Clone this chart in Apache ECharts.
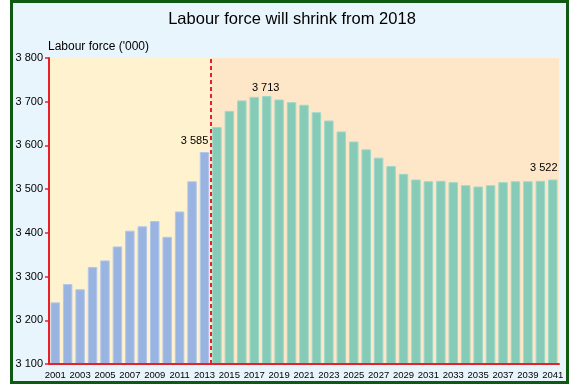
<!DOCTYPE html>
<html>
<head>
<meta charset="utf-8">
<script src="https://cdn.jsdelivr.net/npm/echarts@6/dist/echarts.min.js"></script>
<style>
html,body{margin:0;padding:0;background:#fff;}
#c{width:580px;height:384px;}
</style>
</head>
<body>
<div id="c"></div>
<script>
const years = ['2001','2002','2003','2004','2005','2006','2007','2008','2009','2010','2011','2012','2013','2014','2015','2016','2017','2018','2019','2020','2021','2022','2023','2024','2025','2026','2027','2028','2029','2030','2031','2032','2033','2034','2035','2036','2037','2038','2039','2040','2041'];
const actualValues = [3241,3283,3271,3322,3337,3369,3405,3415,3427,3391,3449,3518,3585];
const projectionValues = [3642,3679,3703,3711,3713,3705,3699,3693,3676,3657,3632,3609,3591,3572,3553,3535,3522,3518,3519,3516,3509,3506,3509,3516,3518,3518,3519,3522];
const labelledYears = ['2013','2018','2041'];
const yTicks = [3100,3200,3300,3400,3500,3600,3700,3800];

const NARROW = '"Liberation Sans Narrow","Liberation Sans",Arial,sans-serif';
const SANS = '"Liberation Sans",Arial,sans-serif';
const fmt = v => String(v).replace(/(\d)(\d{3})$/, '$1 $2');

const labelOffsets = {'2013': [-10, -3], '2018': [-1, 0], '2041': [-9, -3]};
function buildSeries(values, startIdx) {
  const out = years.map(() => '-');
  values.forEach((v, i) => {
    const y = years[startIdx + i];
    if (labelledYears.includes(y)) {
      out[startIdx + i] = {value: v, label: {show: true, position: 'top', distance: 3, offset: labelOffsets[y],
        formatter: p => fmt(p.value), fontFamily: NARROW, fontSize: 11, color: '#000'}};
    } else out[startIdx + i] = v;
  });
  return out;
}
const splitIndex = actualValues.length;

const chart = echarts.init(document.getElementById('c'), null, {renderer: 'canvas'});
chart.setOption({
  animation: false,
  backgroundColor: '#ffffff',
  graphic: [
    {type: 'rect', z: -100, shape: {x: 11.5, y: 1.5, width: 556, height: 381},
     style: {fill: '#e9f5fd', stroke: '#0f5a12', lineWidth: 3}},
    {type: 'text', x: 292, y: 19, style: {text: 'Labour force will shrink from 2018', font: '16.5px ' + SANS, fill: '#000', align: 'center', verticalAlign: 'middle'}},
    {type: 'text', left: 48, top: 41, style: {text: "Labour force ('000)", font: '12px ' + SANS, fill: '#000'}},
    {type: 'text', x: 119, y: 69, style: {text: 'Actual', font: '10.5px ' + NARROW, fill: '#000', align: 'center', verticalAlign: 'middle'}},
    {type: 'text', x: 268, y: 69, style: {text: 'Peak at 2018', font: '10.5px ' + NARROW, fill: '#000', align: 'center', verticalAlign: 'middle'}},
    {type: 'text', x: 386, y: 69, style: {text: 'Projection', font: '10.5px ' + NARROW, fill: '#000', align: 'center', verticalAlign: 'middle'}}
  ],
  grid: {left: 49, right: 21, top: 58, bottom: 20, containLabel: false},
  xAxis: [
    {type: 'category', data: years, axisLine: {lineStyle: {color: '#e8202a', width: 2}}, axisTick: {show: false},
     axisLabel: {interval: 1, fontFamily: NARROW, fontSize: 9.5, color: '#000', margin: 6}, z: 10},
    {type: 'value', min: 0, max: years.length, show: false}
  ],
  yAxis: {type: 'value', min: yTicks[0], max: yTicks[yTicks.length - 1], interval: 100,
    axisLine: {show: true, lineStyle: {color: '#e8202a', width: 2}},
    axisTick: {show: true, length: 4, lineStyle: {color: '#e8202a', width: 1.5}},
    axisLabel: {formatter: fmt, fontFamily: SANS, fontSize: 11, color: '#000', margin: 6},
    splitLine: {show: false}, z: 10},
  series: [
    {type: 'line', xAxisIndex: 1, data: [], silent: true,
     markArea: {silent: true, data: [
       [{xAxis: 0, itemStyle: {color: '#fff2cf'}}, {xAxis: splitIndex}],
       [{xAxis: splitIndex, itemStyle: {color: '#fee6c8'}}, {xAxis: years.length}]
     ]},
     markLine: {silent: true, symbol: 'none', label: {show: false}, z: 5,
       lineStyle: {color: '#e8202a', type: [4, 3], width: 2},
       data: [{xAxis: splitIndex}]}
    },
    {type: 'bar', name: 'Actual', data: buildSeries(actualValues, 0), barWidth: '76%', barGap: '-100%',
     itemStyle: {color: '#9ab4e1', borderColor: '#b3c7ec', borderWidth: 1}, z: 3},
    {type: 'bar', name: 'Projection', data: buildSeries(projectionValues, splitIndex), barWidth: '76%', barGap: '-100%',
     itemStyle: {color: '#86cab8', borderColor: '#9fd8c7', borderWidth: 1}, z: 3}
  ]
});
</script>
</body>
</html>
